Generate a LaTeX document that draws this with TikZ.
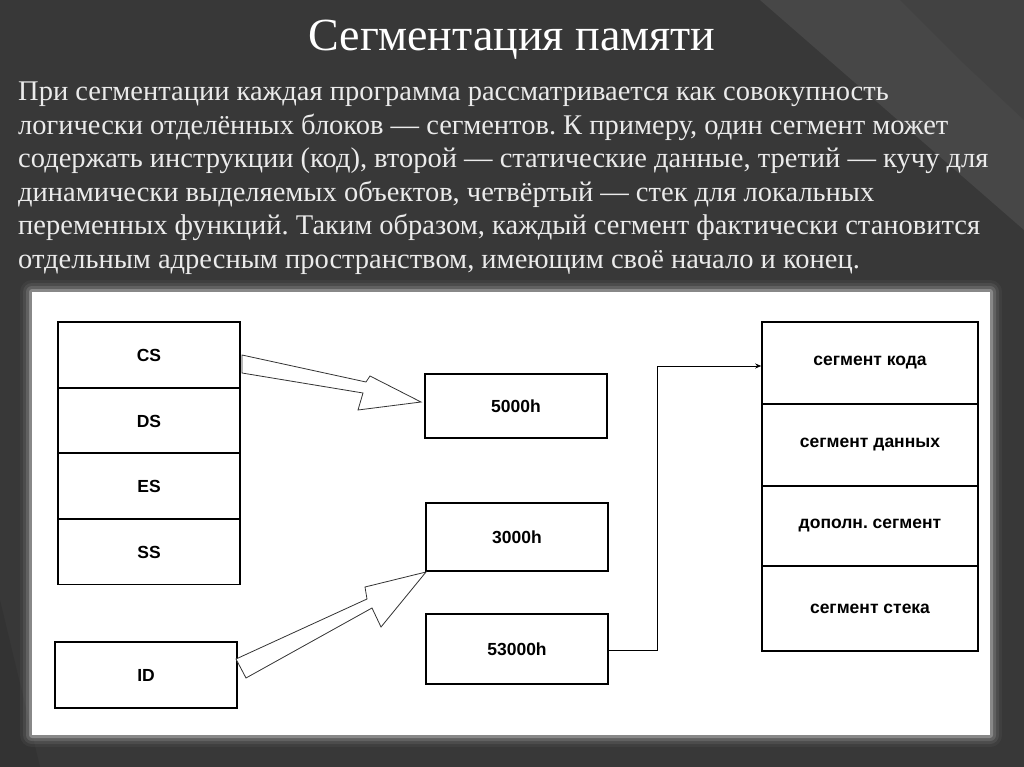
\documentclass[tikz,border=0pt]{standalone}
\usepackage{fontspec}
\usetikzlibrary{arrows.meta}
\setmainfont{Liberation Serif}
\newfontfamily\arialf{Liberation Sans}
\frenchspacing
\begin{document}
\begin{tikzpicture}[x=1pt,y=-1pt,
  box/.style={draw=black,line width=1.6pt,fill=white,minimum width=#1,inner sep=0pt,font=\arialf\bfseries\fontsize{17.5}{20}\selectfont},
  hol/.style={draw=black!80,line width=0.8pt,fill=white,line join=miter}]
\useasboundingbox (0,0) rectangle (1024,767);
\fill[black!78] (0,0) rectangle (1024,767);
\fill[black!72] (760,0) -- (1024,0) -- (1024,230) -- cycle;
\fill[black!74] (900,0) -- (1024,0) -- (1024,120) -- (960,60) -- cycle;
\fill[black!80] (0,600) -- (40,767) -- (0,767) -- cycle;
% title and text
\node[white,font=\fontsize{46}{50}\selectfont] (title) at (512,40) {Сегментация памяти};
\node[anchor=west,text=black!8,align=left,font=\fontsize{28.5}{33.5}\selectfont,inner sep=0pt] (txt) at (18,178)
{При сегментации каждая программа рассматривается как совокупность\\
логически отделённых блоков — сегментов. К примеру, один сегмент может\\
содержать инструкции (код), второй — статические данные, третий — кучу для\\
динамически выделяемых объектов, четвёртый — стек для локальных\\
переменных функций. Таким образом, каждый сегмент фактически становится\\
отдельным адресным пространством, имеющим своё начало и конец.};
% panel with glow
\foreach \g/\o in {12/0.04,9/0.07,6/0.12,3/0.25}{
  \fill[white,opacity=\o,rounded corners=\g] (32-\g,292-\g) rectangle (990+\g,735+\g);}
\fill[white] (32,292) rectangle (990,735);
% left column
\node[box=182pt,minimum height=66pt] (cs) at (149,355) {CS};
\node[box=182pt,minimum height=65pt] (ds) at (149,421) {DS};
\node[box=182pt,minimum height=66pt] (es) at (149,486) {ES};
\node[box=182pt,minimum height=65pt] (ss) at (149,552) {SS};
\node[box=182pt,minimum height=66pt] (id) at (146,675) {ID};
% middle
\node[box=182pt,minimum height=64pt] (a) at (516,406) {5000h};
\node[box=182pt,minimum height=68pt] (b) at (517,537) {3000h};
\node[box=182pt,minimum height=70pt] (c) at (517,649) {53000h};
% right column
\node[box=216pt,minimum height=82pt] (r1) at (870,363) {сегмент кода};
\node[box=216pt,minimum height=82pt] (r2) at (870,445) {сегмент данных};
\node[box=216pt,minimum height=80pt] (r3) at (870,526) {дополн. сегмент};
\node[box=216pt,minimum height=85pt] (r4) at (870,608.5) {сегмент стека};
% hollow arrows
\draw[hol] (242,355) -- (366,382) -- (370,376) -- (421,402) -- (358,410) -- (363,393) -- (242,373) -- cycle;
\draw[hol] (236,659) -- (367,599) -- (365,587) -- (426,572) -- (381,627) -- (372,608) -- (246,678) -- cycle;
% connector
\coordinate (j1) at (657,650);
\coordinate (j2) at (657,366);
\draw[line width=0.8pt,-{Stealth[length=6pt,width=5pt]}] (c.east |- j1) -- (j1) -- (j2) -- (j2 -| r1.west);
\end{tikzpicture}
\end{document}
